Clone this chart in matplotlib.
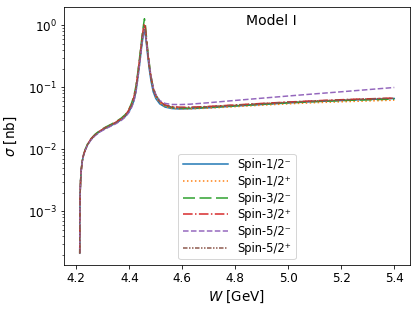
import matplotlib
matplotlib.use("Agg")
import matplotlib.pyplot as plt

# centre-of-mass energy grid [GeV]
W = [4.2128, 4.2134, 4.2145, 4.2162, 4.2185, 4.222, 4.227, 4.234, 4.243, 4.255,
     4.27, 4.29, 4.31, 4.33, 4.35, 4.37, 4.385, 4.398, 4.408, 4.417,
     4.425, 4.432, 4.439, 4.445, 4.450, 4.454, 4.457, 4.460, 4.464, 4.469,
     4.475, 4.482, 4.49, 4.50, 4.515, 4.535, 4.56, 4.59, 4.63, 4.70,
     4.80, 4.90, 5.00, 5.10, 5.20, 5.30, 5.40]

# cross sections [nb]
sig_12m = [2.1e-4, 1.0e-3, 2.0e-3, 3.2e-3, 4.6e-3, 6.3e-3, 8.0e-3, 0.0098, 0.0120, 0.0143,
           0.0168, 0.0195, 0.0218, 0.0240, 0.0265, 0.0300, 0.0340, 0.040, 0.048, 0.060,
           0.085, 0.140, 0.24, 0.40, 0.58, 0.72, 0.80, 0.74, 0.52, 0.33,
           0.20, 0.125, 0.085, 0.066, 0.054, 0.048, 0.0455, 0.0448, 0.0452, 0.0468,
           0.0498, 0.0528, 0.0560, 0.0588, 0.0612, 0.0636, 0.0660]
sig_12p = [2.1e-4, 1.0e-3, 2.0e-3, 3.2e-3, 4.6e-3, 6.3e-3, 8.0e-3, 0.0098, 0.0120, 0.0143,
           0.0168, 0.0196, 0.0219, 0.0242, 0.0268, 0.0304, 0.0345, 0.041, 0.050, 0.063,
           0.090, 0.148, 0.26, 0.43, 0.63, 0.80, 0.90, 0.82, 0.57, 0.36,
           0.22, 0.135, 0.092, 0.070, 0.056, 0.049, 0.0460, 0.0450, 0.0450, 0.0462,
           0.0488, 0.0515, 0.0542, 0.0565, 0.0585, 0.0603, 0.0620]
sig_32m = [2.1e-4, 1.0e-3, 2.0e-3, 3.2e-3, 4.7e-3, 6.4e-3, 8.2e-3, 0.0101, 0.0124, 0.0148,
           0.0174, 0.0203, 0.0228, 0.0252, 0.0280, 0.0320, 0.0365, 0.044, 0.055, 0.072,
           0.105, 0.175, 0.31, 0.52, 0.80, 1.05, 1.28, 1.10, 0.70, 0.42,
           0.25, 0.150, 0.100, 0.075, 0.059, 0.051, 0.0475, 0.0462, 0.0462, 0.0478,
           0.0505, 0.0535, 0.0565, 0.0590, 0.0612, 0.0630, 0.0645]
sig_32p = [2.1e-4, 1.0e-3, 2.0e-3, 3.2e-3, 4.6e-3, 6.3e-3, 8.1e-3, 0.0099, 0.0122, 0.0146,
           0.0171, 0.0199, 0.0224, 0.0248, 0.0275, 0.0313, 0.0356, 0.043, 0.053, 0.069,
           0.100, 0.165, 0.29, 0.48, 0.73, 0.95, 1.06, 0.96, 0.64, 0.39,
           0.235, 0.145, 0.097, 0.074, 0.059, 0.052, 0.0490, 0.0478, 0.0478, 0.0492,
           0.0520, 0.0550, 0.0580, 0.0607, 0.0632, 0.0653, 0.0672]
sig_52m = [2.1e-4, 1.0e-3, 2.0e-3, 3.1e-3, 4.5e-3, 6.2e-3, 7.9e-3, 0.0097, 0.0118, 0.0141,
           0.0165, 0.0192, 0.0214, 0.0236, 0.0260, 0.0294, 0.0333, 0.039, 0.047, 0.059,
           0.084, 0.138, 0.24, 0.40, 0.60, 0.76, 0.86, 0.80, 0.58, 0.38,
           0.24, 0.150, 0.100, 0.076, 0.061, 0.055, 0.0530, 0.0527, 0.0535, 0.0565,
           0.0615, 0.0668, 0.0725, 0.0785, 0.0848, 0.0918, 0.0995]
sig_52p = [2.1e-4, 1.0e-3, 2.0e-3, 3.2e-3, 4.6e-3, 6.3e-3, 8.0e-3, 0.0098, 0.0121, 0.0145,
           0.0170, 0.0198, 0.0222, 0.0245, 0.0272, 0.0308, 0.0350, 0.042, 0.051, 0.066,
           0.095, 0.156, 0.27, 0.45, 0.68, 0.86, 0.95, 0.87, 0.60, 0.37,
           0.225, 0.140, 0.095, 0.073, 0.058, 0.051, 0.0480, 0.0470, 0.0472, 0.0488,
           0.0516, 0.0546, 0.0576, 0.0603, 0.0628, 0.0650, 0.0668]

labels = ['Spin-1/2\u207b', 'Spin-1/2\u207a', 'Spin-3/2\u207b',
          'Spin-3/2\u207a', 'Spin-5/2\u207b', 'Spin-5/2\u207a']
curves = [sig_12m, sig_12p, sig_32m, sig_32p, sig_52m, sig_52p]
styles = ['-', ':', (0, (8, 3)), '-.', '--', (0, (3, 1, 1, 1, 1, 1))]

fig = plt.figure(figsize=(418 / 72, 309 / 72), dpi=72)
ax = fig.add_axes([64 / 418, 44 / 309, 346 / 418, 258 / 309])

for sig, lab, ls in zip(curves, labels, styles):
    ax.plot(W, sig, linestyle=ls, lw=1.5, label=lab)

ax.set_yscale('log')
ax.set_xlabel(r'$W$ [GeV]', fontsize=13.5, labelpad=4)
ax.set_ylabel(r'$\sigma$ [nb]', fontsize=13.5, labelpad=9)
ax.tick_params(labelsize=12)
ax.text(0.60, 0.946, 'Model I', transform=ax.transAxes, fontsize=14,
        ha='center', va='center')
ax.legend(loc='lower center', fontsize=11.5, handlelength=3.9,
          labelspacing=0.32)

fig.savefig('out.png', dpi=72)
